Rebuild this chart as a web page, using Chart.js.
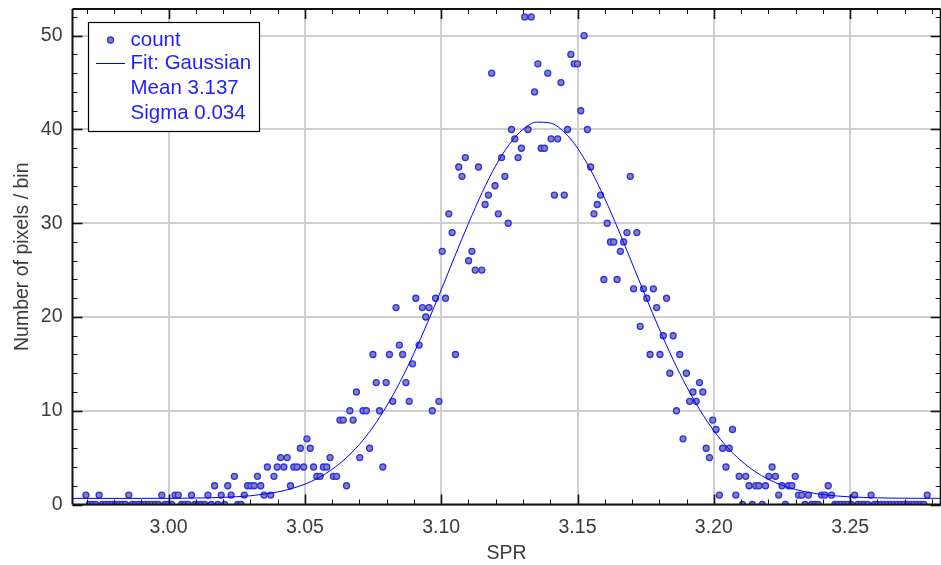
<!DOCTYPE html>
<html>
<head>
<meta charset="utf-8">
<title>SPR histogram</title>
<script src="https://cdn.jsdelivr.net/npm/chart.js@4.4.1/dist/chart.umd.min.js"></script>
<style>
  html, body { margin: 0; padding: 0; background: #ffffff; overflow: hidden; width: 941px; height: 565px; }
  #wrap { width: 946px; height: 565px; }
</style>
</head>
<body>
<div id="wrap"><canvas id="chart" width="946" height="565"></canvas></div>
<script>
// Histogram of SPR values: centre of the first bin and the bin width
const binFirst = 2.9697;
const binWidth = 0.00121;

// Pixel count in each bin, bin 0 upwards
const counts = [
  1, 0, 0, 0, 1, 0, 0, 0, 0, 0, 0, 0, 0, 1, 0, 0, 0, 0, 0, 0,
  0, 0, 0, 1, 0, 0, 0, 1, 1, 0, 0, 0, 1, 0, 0, 0, 0, 1, 0, 2,
  0, 1, 0, 2, 1, 3, 0, 0, 1, 2, 2, 2, 3, 2, 1, 4, 1, 3, 4, 5,
  4, 5, 2, 4, 4, 6, 4, 7, 6, 4, 3, 3, 4, 4, 5, 3, 3, 9, 9, 2,
  10, 9, 12, 5, 10, 10, 6, 16, 13, 10, 4, 13, 16, 11, 21, 17, 16, 13, 11, 15,
  22, 17, 21, 20, 21, 10, 22, 11, 27, 22, 31, 29, 16, 36, 35, 37, 26, 27, 25, 36,
  25, 32, 33, 46, 34, 31, 37, 35, 30, 40, 39, 37, 38, 52, 40, 52, 44, 47, 38, 38,
  46, 39, 33, 39, 45, 33, 40, 48, 47, 47, 42, 50, 40, 36, 31, 32, 33, 24, 30, 28,
  28, 24, 27, 28, 29, 35, 23, 29, 19, 23, 22, 16, 23, 21, 16, 18, 22, 14, 18, 10,
  16, 7, 14, 11, 12, 11, 13, 12, 6, 5, 9, 8, 1, 6, 4, 6, 8, 1, 3, 0,
  3, 2, 0, 2, 2, 0, 2, 3, 4, 3, 1, 2, 0, 2, 2, 3, 1, 1, 0, 1,
  0, 0, 0, 1, 1, 2, 1, 0, 0, 0, 0, 0, 0, 1, 0, 0, 0, 0, 1, 0,
  0, 0, 0, 0, 0, 0, 0, 0, 0, 0, 0, 0, 0, 0, 0, 1
];

// Gaussian fit curve, sampled along SPR
const fitSpr = [
  2.960, 2.965, 2.970, 2.975, 2.980, 2.985, 2.990, 2.995, 3.000, 3.005,
  3.010, 3.015, 3.020, 3.025, 3.030, 3.035, 3.040, 3.045, 3.050, 3.055,
  3.060, 3.065, 3.070, 3.075, 3.080, 3.085, 3.090, 3.095, 3.100, 3.105,
  3.110, 3.115, 3.120, 3.125, 3.130, 3.135, 3.140, 3.145, 3.150, 3.155,
  3.160, 3.165, 3.170, 3.175, 3.180, 3.185, 3.190, 3.195, 3.200, 3.205,
  3.210, 3.215, 3.220, 3.225, 3.230, 3.235, 3.240, 3.245, 3.250, 3.255,
  3.260, 3.265, 3.270, 3.275, 3.280, 3.285
];
const fitCount = [
  0.65, 0.65, 0.65, 0.65, 0.65, 0.65, 0.65, 0.66, 0.66, 0.67,
  0.69, 0.71, 0.76, 0.83, 0.93, 1.10, 1.34, 1.68, 2.17, 2.84,
  3.75, 4.92, 6.41, 8.27, 10.51, 13.13, 16.12, 19.40, 22.89, 26.47,
  29.98, 33.26, 36.13, 38.42, 40.01, 40.78, 40.69, 39.75, 38.02, 35.59,
  32.63, 29.29, 25.75, 22.18, 18.72, 15.49, 12.58, 10.03, 7.87, 6.09,
  4.66, 3.54, 2.69, 2.06, 1.60, 1.28, 1.06, 0.91, 0.81, 0.75,
  0.71, 0.68, 0.67, 0.66, 0.66, 0.65
];
const fitMean = 3.137;
const fitSigma = 0.034;

// Axis ticks
const xTickValues = [3.00, 3.05, 3.10, 3.15, 3.20, 3.25];
const xTickLabels = ['3.00', '3.05', '3.10', '3.15', '3.20', '3.25'];
const yTickValues = [0, 10, 20, 30, 40, 50];
const yTickLabels = ['0', '10', '20', '30', '40', '50'];

const X_MIN = 2.96478, X_MAX = 3.28321;
const Y_MIN = 0, Y_MAX = 52.85;

const FONT = "'Liberation Sans', Arial, sans-serif";
const TEXT_GREY = '#3c3c3c';
const POINT_FILL = 'rgb(134,134,150)';
const POINT_EDGE = 'rgb(45,45,255)';
const FIT_BLUE = '#0000ff';
const LEGEND_BLUE = 'rgb(30,30,255)';

const histPoints = counts.map((c, i) => ({ x: binFirst + i * binWidth, y: c }));
const fitPoints = fitSpr.map((s, i) => ({ x: s, y: fitCount[i] }));

// Black frame with inward major/minor tick marks on all four sides
const frameTicks = {
  id: 'frameTicks',
  afterDraw(chart) {
    const { ctx, chartArea: a, scales: { x, y } } = chart;
    ctx.save();
    ctx.strokeStyle = '#111';
    ctx.lineWidth = 2;
    ctx.beginPath();
    ctx.moveTo(a.left, a.top); ctx.lineTo(a.right, a.top);
    ctx.moveTo(a.left, a.top); ctx.lineTo(a.left, a.bottom);
    ctx.moveTo(a.left, a.bottom); ctx.lineTo(a.right, a.bottom);
    ctx.moveTo(a.right, a.top); ctx.lineTo(a.right, a.bottom);
    ctx.stroke();

    const tick = (x0, y0, x1, y1, major) => {
      ctx.lineWidth = major ? 1.6 : 1;
      ctx.beginPath(); ctx.moveTo(x0, y0); ctx.lineTo(x1, y1); ctx.stroke();
    };
    for (let k = 297; k <= 328; k++) {
      const v = k / 100;
      const px = Math.round(x.getPixelForValue(v)) + 0.5;
      const major = k % 5 === 0;
      const len = major ? 10 : 5;
      tick(px, a.bottom, px, a.bottom - len, major);
      tick(px, a.top, px, a.top + len, major);
    }
    for (let v = 0; v <= 52; v += 2) {
      const py = Math.round(y.getPixelForValue(v)) + 0.5;
      const major = v % 10 === 0;
      const len = major ? 10 : 5;
      tick(a.left, py, a.left + len, py, major);
      tick(a.right, py, a.right - len, py, major);
    }
    ctx.restore();
  }
};

// Boxed legend with the fit parameters
const fitLegend = {
  id: 'fitLegend',
  afterDraw(chart) {
    const ctx = chart.ctx;
    const ds = chart.data.datasets;
    const box = { x: 88.5, y: 22.5, w: 171, h: 109 };
    ctx.save();
    ctx.fillStyle = '#ffffff';
    ctx.fillRect(box.x, box.y, box.w, box.h);
    ctx.strokeStyle = '#000000';
    ctx.lineWidth = 1.2;
    ctx.strokeRect(box.x, box.y, box.w, box.h);

    const textX = 130.5;
    const rows = [40, 63.5, 88.5, 113];
    ctx.font = '20.5px ' + FONT;
    ctx.textBaseline = 'middle';
    ctx.textAlign = 'left';
    ctx.fillStyle = LEGEND_BLUE;
    ctx.fillText(ds[0].label, textX, rows[0]);
    ctx.fillText(ds[1].label, textX, rows[1]);
    ctx.fillText('Mean ' + fitMean.toFixed(3), textX, rows[2]);
    ctx.fillText('Sigma ' + fitSigma.toFixed(3), textX, rows[3]);

    // marker for the histogram points
    ctx.beginPath();
    ctx.arc(110.5, rows[0], 3, 0, Math.PI * 2);
    ctx.fillStyle = POINT_FILL;
    ctx.fill();
    ctx.lineWidth = 1.3;
    ctx.strokeStyle = POINT_EDGE;
    ctx.stroke();

    // line sample for the fit
    ctx.beginPath();
    ctx.moveTo(96, rows[1]); ctx.lineTo(125, rows[1]);
    ctx.lineWidth = 1;
    ctx.strokeStyle = FIT_BLUE;
    ctx.stroke();
    ctx.restore();
  }
};

new Chart(document.getElementById('chart'), {
  type: 'scatter',
  data: {
    datasets: [
      {
        label: 'count',
        data: histPoints,
        showLine: false,
        pointRadius: 3,
        pointBorderWidth: 1.3,
        pointBackgroundColor: POINT_FILL,
        pointBorderColor: POINT_EDGE,
        clip: 0,
        order: 1
      },
      {
        label: 'Fit: Gaussian',
        data: fitPoints,
        showLine: true,
        borderColor: FIT_BLUE,
        borderWidth: 1,
        pointRadius: 0,
        cubicInterpolationMode: 'monotone',
        fill: false,
        order: 0
      }
    ]
  },
  options: {
    responsive: false,
    animation: false,
    events: [],
    layout: { padding: { top: 9, right: 1, left: 0, bottom: 0 } },
    plugins: { legend: { display: false }, tooltip: { enabled: false } },
    scales: {
      x: {
        type: 'linear',
        min: X_MIN,
        max: X_MAX,
        afterFit: s => {
          s.height = 60.5;
          s.paddingLeft = 0; s.paddingRight = 0; s.paddingTop = 0; s.paddingBottom = 0;
        },
        afterBuildTicks: s => { s.ticks = xTickValues.map(v => ({ value: v })); },
        ticks: {
          callback: (v, i) => xTickLabels[i],
          font: { family: FONT, size: 19.5 },
          color: TEXT_GREY,
          padding: 11,
          maxRotation: 0,
          autoSkip: false
        },
        grid: { color: '#cfcfcf', lineWidth: 2, drawTicks: false },
        border: { display: false },
        title: {
          display: true,
          text: 'SPR',
          font: { family: FONT, size: 19.5 },
          color: TEXT_GREY,
          padding: { top: 0, bottom: 0 }
        }
      },
      y: {
        type: 'linear',
        min: Y_MIN,
        max: Y_MAX,
        afterFit: s => {
          s.width = 72.5;
          s.paddingLeft = 0; s.paddingRight = 0; s.paddingTop = 0; s.paddingBottom = 0;
        },
        afterBuildTicks: s => { s.ticks = yTickValues.map(v => ({ value: v })); },
        ticks: {
          callback: (v, i) => yTickLabels[i],
          font: { family: FONT, size: 19.5 },
          color: TEXT_GREY,
          padding: 10
        },
        grid: { color: '#cfcfcf', lineWidth: 2, drawTicks: false },
        border: { display: false },
        title: {
          display: true,
          text: 'Number of pixels / bin',
          font: { family: FONT, size: 19.5 },
          color: TEXT_GREY,
          padding: { top: 11, bottom: 0 }
        }
      }
    }
  },
  plugins: [frameTicks, fitLegend]
});
</script>
</body>
</html>
